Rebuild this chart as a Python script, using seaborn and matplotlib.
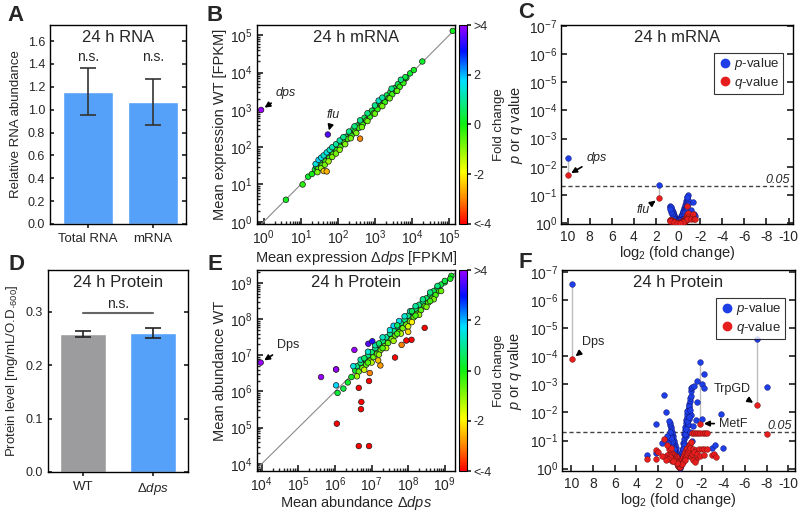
import numpy as np
import pandas as pd
import matplotlib
matplotlib.use("Agg")
import matplotlib.pyplot as plt
import matplotlib.ticker as mticker
from matplotlib.colors import LinearSegmentedColormap, Normalize
from matplotlib.lines import Line2D
import seaborn as sns

# ------------------------------------------------------------------ data
# Panel A: 24 h RNA
rna_categories = ["Total RNA", "mRNA"]
rna_values = [1.155, 1.065]
rna_errors = [0.205, 0.200]

# Panel D: 24 h protein
protein_categories = ["WT", "dps"]
protein_ticklabels = ["WT", "Δ$\\mathit{dps}$"]
protein_values = [0.258, 0.260]
protein_errors = [0.005, 0.009]

# Panel B: 24 h mRNA scatter (log10 FPKM, Δdps on x, WT on y) and fold change
b_log_dps = [1.38, 1.45, 1.50, 1.55, 1.60, 1.65, 1.70, 1.75, 1.80, 1.85, 1.90, 1.95, 2.00, 2.05,
             2.10, 2.15, 2.20, 2.25, 2.30, 2.35, 2.40, 2.45, 2.50, 2.55, 2.60, 2.65, 2.70, 2.75,
             2.80, 2.85, 2.90, 2.95, 3.00, 3.05, 3.10, 3.15, 3.20, 3.25, 3.30, 3.35, 3.40, 3.45,
             3.50, 3.55, 3.60, 3.65, 3.70, 3.78, 3.85, 3.95,
             1.42, 1.52, 1.62, 1.72, 1.82, 1.92, 2.02, 2.12, 2.22, 2.32, 2.42, 2.52, 2.62, 2.72,
             2.82, 2.92, 3.02, 3.12, 3.22, 3.32, 3.42, 3.52, 3.62, 3.72, 3.82,
             1.47, 1.57, 1.67, 1.77, 1.87, 1.97, 2.07, 2.17, 2.27, 2.37, 2.47, 2.57, 2.67, 2.77,
             2.87, 2.97, 3.07, 3.17, 3.27, 3.37, 3.47, 3.57, 3.67, 3.77,
             1.40, 1.48, 1.55, 1.62, 1.70, 1.78, 1.85, 1.95, 2.05, 2.15, 2.30, 2.45, 2.60, 2.80,
             3.00, 3.10, 3.20, 3.45, 3.70,
             1.45, 1.55, 1.65, 1.75, 1.85, 1.95, 2.05, 2.20, 2.35, 2.50, 2.65, 2.80, 3.00, 3.20,
             3.40, 3.60,
             0.60, 1.05, 1.20, 1.30, 4.05, 4.28, 5.10,
             2.60, 1.62, 1.70]
b_log_wt = [1.40, 1.44, 1.53, 1.56, 1.59, 1.68, 1.70, 1.77, 1.79, 1.88, 1.90, 1.94, 2.03, 2.05,
            2.12, 2.14, 2.22, 2.27, 2.29, 2.38, 2.40, 2.46, 2.52, 2.54, 2.62, 2.66, 2.69, 2.78,
            2.80, 2.86, 2.93, 2.94, 3.02, 3.08, 3.10, 3.16, 3.23, 3.25, 3.32, 3.36, 3.41, 3.47,
            3.51, 3.56, 3.62, 3.66, 3.71, 3.80, 3.86, 3.98,
            1.49, 1.58, 1.69, 1.78, 1.89, 1.98, 2.08, 2.19, 2.28, 2.38, 2.49, 2.58, 2.68, 2.79,
            2.88, 2.98, 3.09, 3.18, 3.28, 3.39, 3.48, 3.58, 3.69, 3.78, 3.88,
            1.42, 1.51, 1.62, 1.71, 1.82, 1.92, 2.01, 2.12, 2.22, 2.31, 2.42, 2.52, 2.61, 2.72,
            2.82, 2.91, 3.02, 3.12, 3.21, 3.32, 3.42, 3.51, 3.62, 3.72,
            1.55, 1.66, 1.72, 1.78, 1.86, 1.93, 2.00, 2.08, 2.18, 2.27, 2.42, 2.56, 2.72, 2.91,
            3.12, 3.25, 3.33, 3.57, 3.81,
            1.33, 1.44, 1.53, 1.62, 1.74, 1.83, 1.93, 2.08, 2.24, 2.38, 2.54, 2.70, 2.90, 3.10,
            3.31, 3.51,
            0.59, 1.00, 1.21, 1.28, 4.07, 4.30, 5.12,
            2.23, 1.36, 1.35]
b_fc = [0.2, 0.0, 0.3, 0.1, -0.1, 0.3, 0.0, 0.2, -0.1, 0.3, 0.0, -0.1, 0.2, 0.0,
        0.2, -0.1, 0.1, 0.2, -0.1, 0.3, 0.0, 0.1, 0.2, -0.1, 0.2, 0.1, -0.1, 0.3,
        0.0, 0.1, 0.2, -0.1, 0.1, 0.3, 0.0, 0.1, 0.2, 0.0, 0.1, 0.1, 0.0, 0.2,
        0.0, 0.1, 0.2, 0.0, 0.1, 0.1, 0.0, 0.2,
        0.6, 0.5, 0.7, 0.5, 0.6, 0.5, 0.4, 0.6, 0.5, 0.4, 0.5, 0.4, 0.4, 0.5,
        0.4, 0.4, 0.5, 0.4, 0.4, 0.5, 0.4, 0.4, 0.5, 0.4, 0.4,
        -0.5, -0.4, -0.5, -0.4, -0.5, -0.4, -0.4, -0.5, -0.4, -0.3, -0.4, -0.4, -0.3, -0.4,
        -0.3, -0.4, -0.3, -0.4, -0.3, -0.3, -0.4, -0.3, -0.3, -0.3,
        1.5, 1.8, 1.6, 1.4, 1.5, 1.3, 1.2, 1.0, 1.1, 0.9, 0.9, 0.8, 0.9, 0.8,
        0.9, 1.3, 1.1, 0.9, 0.8,
        -0.9, -1.0, -0.8, -1.1, -0.9, -0.8, -1.0, -0.9, -0.8, -0.9, -0.8, -0.8, -0.7, -0.8,
        -0.7, -0.7,
        0.1, -0.2, 0.2, 0.0, 0.1, 0.2, 0.1,
        -3.0, -2.3, -2.6]
b_label_names = ["dps", "flu"]
b_label_log_dps = [-0.07, 1.73]
b_label_log_wt = [3.00, 2.34]
b_label_fc = [6.0, 3.5]

# Panel E: 24 h protein scatter (log10 abundance) and fold change
e_log_dps = [6.55, 6.65, 6.75, 6.85, 6.95, 7.05, 7.15, 7.25, 7.35, 7.45, 7.55, 7.65, 7.75, 7.85,
             7.95, 8.05, 8.15, 8.25, 8.35, 8.45, 8.55, 8.65, 8.75, 8.85, 9.00, 9.18, 9.15,
             6.60, 6.70, 6.80, 6.90, 7.00, 7.10, 7.20, 7.30, 7.40, 7.50, 7.60, 7.70, 7.80,
             7.90, 8.00, 8.10, 8.20, 8.30, 8.40, 8.50, 8.60, 8.70, 8.80, 8.90, 9.00,
             6.65, 6.75, 6.85, 6.95, 7.05, 7.15, 7.25, 7.35, 7.45, 7.55, 7.65, 7.75, 7.85,
             7.95, 8.05, 8.15, 8.25, 8.35, 8.45, 8.55, 8.65, 8.75, 8.85,
             6.50, 6.70, 6.90, 7.10, 7.30, 7.50, 7.60, 7.75, 7.90, 8.05, 8.20, 8.40, 8.60, 8.80,
             6.80, 7.20, 7.70, 8.10,
             6.60, 6.80, 7.00, 7.20, 7.40, 7.60, 7.80, 8.00, 8.10, 8.30, 8.50, 8.70, 8.90,
             6.90, 7.30, 7.70, 8.20, 8.60,
             6.07, 6.23, 6.35, 6.45,
             6.03, 7.82, 6.95, 7.24, 7.18, 8.00,
             6.65, 6.72, 6.71, 6.05, 6.65, 6.93, 6.93, 7.64, 8.09, 7.95, 8.45,
             6.03, 5.62, 6.03, 6.53, 6.91, 7.02]
e_log_wt = [6.58, 6.66, 6.78, 6.85, 6.97, 7.08, 7.15, 7.27, 7.38, 7.45, 7.57, 7.68, 7.75, 7.87,
            7.98, 8.05, 8.17, 8.28, 8.35, 8.47, 8.58, 8.65, 8.77, 8.86, 9.02, 9.20, 9.12,
            6.70, 6.79, 6.90, 7.00, 7.09, 7.20, 7.30, 7.39, 7.50, 7.60, 7.69, 7.80, 7.90,
            7.99, 8.10, 8.20, 8.29, 8.40, 8.49, 8.58, 8.68, 8.78, 8.87, 8.96, 9.06,
            6.55, 6.65, 6.74, 6.85, 6.95, 7.04, 7.15, 7.25, 7.34, 7.45, 7.55, 7.64, 7.75,
            7.85, 7.94, 8.05, 8.15, 8.25, 8.36, 8.46, 8.57, 8.67, 8.78,
            6.70, 6.88, 7.10, 7.28, 7.50, 7.70, 7.82, 7.95, 8.08, 8.22, 8.36, 8.55, 8.74, 8.92,
            6.92, 7.33, 7.83, 8.22,
            6.42, 6.60, 6.80, 7.02, 7.20, 7.40, 7.60, 7.80, 7.92, 8.12, 8.34, 8.55, 8.78,
            6.80, 7.20, 7.60, 8.10, 8.50,
            5.96, 6.08, 6.25, 6.40,
            6.17, 7.29, 6.51, 6.72, 6.86, 7.65,
            6.10, 5.71, 5.51, 5.11, 4.49, 4.49, 6.29, 6.94, 7.43, 7.41, 7.76,
            6.61, 6.40, 6.61, 7.15, 7.32, 7.39]
e_fc = [0.2, 0.0, 0.2, 0.0, 0.1, 0.2, 0.0, 0.1, 0.2, 0.0, 0.1, 0.2, 0.0, 0.1,
        0.2, 0.0, 0.1, 0.2, 0.0, 0.1, 0.2, 0.0, 0.1, 0.1, 0.1, 0.1, 0.0,
        0.8, 0.7, 0.9, 0.8, 0.7, 0.9, 0.8, 0.7, 1.0, 0.9, 0.8, 1.0, 0.9,
        0.8, 0.9, 0.8, 0.7, 0.8, 0.7, 0.6, 0.6, 0.5, 0.5, 0.4, 0.4,
        -0.7, -0.8, -0.6, -0.8, -0.7, -0.6, -0.8, -0.7, -0.6, -0.8, -0.7, -0.6, -0.8,
        -0.7, -0.9, -0.7, -0.6, -0.6, -0.5, -0.5, -0.4, -0.4, -0.3,
        1.5, 1.2, 1.4, 1.1, 1.3, 1.5, 1.8, 1.6, 1.4, 1.2, 1.0, 0.9, 0.8, 0.8,
        0.6, 0.6, 0.6, 0.5,
        -1.2, -1.5, -1.3, -1.1, -1.4, -1.2, -1.3, -1.6, -2.0, -1.0, -0.9, -0.8, -0.7,
        -0.5, -0.5, -0.5, -0.4, -0.4,
        0.3, 0.4, 0.2, 0.1,
        1.8, -3.0, -3.0, -2.8, -2.5, -2.3,
        -4.2, -4.5, -4.5, -5.0, -6.0, -5.5, -4.2, -4.2, -4.0, -4.1, -4.3,
        5.0, 5.0, 5.0, 4.5, 3.5, 3.2]
e_label_names = ["Dps"]
e_label_log_dps = [3.97]
e_label_log_wt = [6.80]
e_label_fc = [6.0]

# Panel C: 24 h mRNA volcano (log2 fold change, p, q)
c_fc = [0.15, 0.20, 0.25, 0.30, 0.35, 0.40, 0.45, 0.50, 0.55, 0.60, 0.65, 0.70, 0.75,
        0.00, -0.05, -0.10, -0.15, -0.20, -0.25, -0.30, -0.35, -0.40, -0.45, -0.50, -0.55,
        -0.60, -0.65, -0.70, -0.75, -0.80, -0.85, -0.90,
        0.18, 0.28, 0.38, 0.48, 0.58, 0.68, 0.22, 0.32, 0.42, 0.52, 0.62, 0.72,
        -0.08, -0.18, -0.28, -0.38, -0.48, -0.58, -0.68, -0.78, -0.88, -0.12, -0.32, -0.52,
        -0.72, -0.92, -0.62, -0.82,
        0.30, 0.20, 0.10, 0.00, -0.10, -0.20, -0.30, 0.40, -0.40, 0.10, -0.15,
        -1.36, -1.20, -1.45, -0.76, -1.50]
c_p = [0.95, 0.85, 0.76, 0.68, 0.60, 0.53, 0.47, 0.42, 0.37, 0.33, 0.30, 0.27, 0.24,
       1.00, 0.92, 0.84, 0.76, 0.69, 0.62, 0.55, 0.49, 0.44, 0.39, 0.34, 0.30,
       0.26, 0.23, 0.20, 0.17, 0.15, 0.12, 0.105,
       0.90, 0.70, 0.55, 0.44, 0.35, 0.28, 0.95, 0.80, 0.62, 0.50, 0.40, 0.33,
       0.95, 0.80, 0.65, 0.52, 0.42, 0.33, 0.26, 0.20, 0.15, 0.93, 0.70, 0.50,
       0.33, 0.22, 0.40, 0.30,
       0.80, 0.90, 0.95, 0.90, 0.90, 0.85, 0.80, 0.70, 0.75, 0.85, 0.80,
       0.18, 0.36, 0.48, 0.12, 0.55]
c_q = [1.00, 0.98, 0.96, 0.94, 0.92, 0.90, 0.88, 0.86, 0.84, 0.82, 0.80, 0.78, 0.76,
       1.00, 1.00, 0.98, 0.96, 0.94, 0.92, 0.90, 0.88, 0.85, 0.82, 0.80, 0.77,
       0.74, 0.70, 0.66, 0.62, 0.55, 0.50, 0.45,
       1.00, 0.96, 0.92, 0.88, 0.84, 0.80, 1.00, 0.98, 0.95, 0.90, 0.86, 0.82,
       1.00, 0.98, 0.95, 0.92, 0.88, 0.85, 0.80, 0.72, 0.62, 1.00, 0.96, 0.90,
       0.80, 0.70, 0.85, 0.75,
       1.0, 1.0, 1.0, 1.0, 1.0, 1.0, 1.0, 0.95, 0.95, 1.0, 1.0,
       0.48, 0.72, 0.72, 0.24, 0.72]
c_label_names = ["dps", "flu"]
c_label_fc = [10.0, 1.75]
c_label_p = [4.9e-3, 0.044]
c_label_q = [0.020, 0.13]

# Panel F: 24 h protein volcano (blue p-values, red q-values)
f_p_fc = [0.05, 0.10, 0.15, 0.20, 0.25, 0.30, 0.35, 0.40, 0.45, 0.50, 0.55, 0.60, 0.65, 0.70,
          0.75, 0.80, 0.85, 0.90, 0.95, 1.00,
          0.12, 0.22, 0.32, 0.42, 0.52, 0.62, 0.72, 0.82, 0.92, 0.18, 0.38, 0.58, 0.78, 0.98,
          -0.05, -0.10, -0.15, -0.20, -0.25, -0.30, -0.35, -0.40, -0.45, -0.50, -0.55, -0.60,
          -0.65, -0.70, -0.75, -0.80, -0.85, -0.90, -0.95, -1.00, -1.05, -1.00,
          -0.12, -0.22, -0.32, -0.42, -0.52, -0.62, -0.72, -0.82, -0.92, -0.18, -0.38, -0.58,
          -0.78, -0.98, -0.88, -0.68,
          0.00, 0.02, -0.02, 0.10, -0.10, 0.20, -0.20, 0.30, 0.50, 0.70, 0.90, 0.80,
          -0.30, -0.50, -0.70, -0.90, -0.60, -0.80,
          1.46, 1.30, 2.20, 3.00, 2.20, 1.10, 1.20, 0.60, 1.60,
          -1.13, -1.28, -1.59, -2.04, -2.20, -2.26, -1.60, -1.50, -2.00, -3.80, -2.96, -3.26,
          -4.00, -1.20, -0.90, -1.10,
          -8.00]
f_p = [0.85, 0.70, 0.55, 0.45, 0.36, 0.29, 0.23, 0.18, 0.15, 0.12, 0.10, 0.085, 0.07, 0.06,
       0.05, 0.04, 0.033, 0.028, 0.024, 0.020,
       0.75, 0.55, 0.40, 0.30, 0.22, 0.16, 0.12, 0.09, 0.065, 0.80, 0.45, 0.25, 0.14, 0.09,
       0.80, 0.55, 0.38, 0.26, 0.18, 0.12, 0.085, 0.06, 0.043, 0.032, 0.024, 0.018,
       0.014, 0.011, 0.0085, 0.0065, 0.005, 0.004, 0.0032, 0.0026, 0.0018, 0.0014,
       0.60, 0.35, 0.20, 0.12, 0.07, 0.045, 0.028, 0.017, 0.011, 0.50, 0.15, 0.06,
       0.025, 0.012, 0.006, 0.009,
       0.95, 0.90, 0.90, 0.80, 0.75, 0.65, 0.60, 0.40, 0.20, 0.10, 0.05, 0.08,
       0.20, 0.06, 0.02, 0.008, 0.04, 0.015,
       0.0024, 0.010, 0.026, 0.32, 0.27, 0.12, 0.07, 0.30, 0.12,
       0.0013, 0.0012, 0.00074, 0.0010, 0.00045, 0.0014, 0.0044, 0.019, 0.017, 0.011, 0.18,
       0.15, 0.19, 0.03, 0.05, 0.10,
       0.0013]
f_q_fc = [0.00, 0.10, 0.20, 0.30, 0.40, 0.50, 0.60, 0.70, 0.80, 0.90, 1.00, 1.20, 1.40, 1.60,
          1.00, 0.80, 1.20, 3.00, 2.20, 2.20, 1.46, 2.00,
          0.05, 0.15, 0.25, 0.35, 0.45, 0.55, 0.65, 0.75, 0.85, 0.95, 1.10, 1.30,
          -0.10, -0.20, -0.30, -0.40, -0.50, -0.60, -0.70, -0.80, -0.90, -1.00,
          -0.05, -0.15, -0.25, -0.35, -0.45, -0.55, -0.65, -0.75, -0.85, -0.95,
          -1.10, -1.30, -1.50, -1.70, -1.90, -2.10, -2.30, -2.50,
          -1.20, -1.50, -1.80, -2.00, -2.20, -2.50, -2.96, -3.10, -3.30, -1.50, -1.00, -0.50,
          -0.20, 0.30, 0.60, -1.10, -1.30, -1.60, -1.90, -2.20, -1.20, -1.40,
          -8.00]
f_q = [0.75, 0.60, 0.50, 0.42, 0.36, 0.32, 0.30, 0.28, 0.30, 0.35, 0.30, 0.33, 0.40, 0.35,
       0.20, 0.18, 0.15, 0.47, 0.22, 0.47, 0.09, 0.25,
       0.90, 0.80, 0.70, 0.60, 0.50, 0.45, 0.50, 0.55, 0.45, 0.40, 0.45, 0.50,
       0.55, 0.45, 0.38, 0.30, 0.25, 0.20, 0.18, 0.15, 0.13, 0.11,
       0.85, 0.70, 0.60, 0.50, 0.42, 0.35, 0.30, 0.26, 0.22, 0.19,
       0.056, 0.056, 0.056, 0.056, 0.056, 0.056, 0.056, 0.056,
       0.20, 0.22, 0.20, 0.20, 0.20, 0.20, 0.32, 0.30, 0.37, 0.45, 0.40, 0.50,
       0.70, 0.65, 0.55, 0.30, 0.25, 0.30, 0.35, 0.33, 0.50, 0.60,
       0.059]
f_label_names = ["Dps", "MetF", "TrpGD"]
f_label_fc = [9.9, -1.83, -7.07]
f_label_p = [2.8e-7, 1.6e-4, 2.4e-5]
f_label_q = [1.25e-4, 0.025, 5.5e-3]

# ------------------------------------------------------------------ style
sns.set_theme(style="ticks")
plt.rcParams["font.family"] = ["Liberation Sans", "DejaVu Sans"]
plt.rcParams["mathtext.fontset"] = "custom"
plt.rcParams["mathtext.rm"] = "Liberation Sans"
plt.rcParams["mathtext.it"] = "Liberation Sans:italic"
plt.rcParams["mathtext.bf"] = "Liberation Sans:bold"
plt.rcParams["axes.unicode_minus"] = False
plt.rcParams["axes.linewidth"] = 1.0
plt.rcParams["axes.edgecolor"] = "black"

TICK_FS = 9
LABEL_FS = 9.5
TITLE_FS = 12
BAR_BLUE = "#55A0F8"
BAR_GRAY = "#9C9B9D"
P_BLUE = "#1E3FE6"
Q_RED = "#E61E1E"

fc_cmap = LinearSegmentedColormap.from_list(
    "fold", [(0.0, "#FF0000"), (0.13, "#FF8A00"), (0.26, "#FFFF00"), (0.5, "#10F010"),
             (0.72, "#00E0FF"), (0.87, "#0010FF"), (1.0, "#9A00FF")])
fc_norm = Normalize(-4, 4)

W, H = 800, 511


def rect(l, r, t, b):
    return [l / W, 1 - b / H, (r - l) / W, (b - t) / H]


fig = plt.figure(figsize=(8.0, 5.11), dpi=100)
axA = fig.add_axes(rect(50, 186, 25, 224))
axB = fig.add_axes(rect(257, 455, 25, 224))
cbB = fig.add_axes(rect(459, 467, 25, 224))
axC = fig.add_axes(rect(561, 793, 25, 224))
axD = fig.add_axes(rect(48, 188, 270, 472))
axE = fig.add_axes(rect(257, 455, 270, 471))
cbE = fig.add_axes(rect(459, 467, 270, 471))
axF = fig.add_axes(rect(562, 795, 270, 471))


def title_in(ax, s):
    ax.text(0.5, 0.975, s, transform=ax.transAxes, ha="center", va="top", fontsize=TITLE_FS)


# ------------------------------------------------------------------ A
dfA = pd.DataFrame({"cat": rna_categories, "val": rna_values})
sns.barplot(data=dfA, x="cat", y="val", color=BAR_BLUE, saturation=1, width=0.78,
            errorbar=None, ax=axA)
axA.errorbar(range(len(rna_values)), rna_values, yerr=rna_errors, fmt="none",
             ecolor="#333333", elinewidth=1.2, capsize=6, capthick=1.2)
for i, v in enumerate(rna_values):
    axA.text(i, 1.46, "n.s.", ha="center", va="center", fontsize=10)
axA.set_xlim(-0.59, 1.51)
axA.set_ylim(0, 1.74)
axA.set_yticks(np.arange(0, 1.61, 0.2))
axA.yaxis.set_major_formatter(mticker.FormatStrFormatter("%.1f"))
axA.set_xlabel("")
axA.set_ylabel("Relative RNA abundance", fontsize=LABEL_FS)
title_in(axA, "24 h RNA")

# ------------------------------------------------------------------ D
dfD = pd.DataFrame({"cat": protein_categories, "val": protein_values})
sns.barplot(data=dfD, x="cat", y="val", hue="cat", palette=[BAR_GRAY, BAR_BLUE],
            saturation=1, width=0.66, errorbar=None, legend=False, ax=axD)
axD.errorbar(range(len(protein_values)), protein_values, yerr=protein_errors, fmt="none",
             ecolor="#222222", elinewidth=1.2, capsize=6, capthick=1.2)
axD.plot([0, 1], [0.297, 0.297], color="#666666", lw=1.5)
axD.text(0.5, 0.301, "n.s.", ha="center", va="bottom", fontsize=10)
axD.set_xlim(-0.5, 1.5)
axD.set_ylim(0, 0.378)
axD.set_yticks([0.0, 0.1, 0.2, 0.3])
axD.yaxis.set_major_formatter(mticker.FormatStrFormatter("%.1f"))
axD.set_xticks([0, 1])
axD.set_xticklabels(protein_ticklabels)
axD.set_xlabel("")
axD.set_ylabel("Protein level [mg/mL/O.D.$_{600}$]", fontsize=LABEL_FS)
title_in(axD, "24 h Protein")

for ax in (axA, axD):
    ax.tick_params(axis="y", which="both", direction="in", left=True, right=True,
                   labelsize=TICK_FS, length=3)
    ax.tick_params(axis="x", direction="out", labelsize=TICK_FS + 0.5, length=3)
    for s in ax.spines.values():
        s.set_visible(True)
        s.set_linewidth(1.0)


# ------------------------------------------------------------------ B / E scatter
def scatter_panel(ax, cax, xs, ys, fc, xlim, ylim, xlabel, ylabel, title, xpad):
    df = pd.DataFrame({"x": np.power(10.0, xs), "y": np.power(10.0, ys), "fc": fc})
    ax.set_xscale("log")
    ax.set_yscale("log")
    ax.axline((1.0, 1.0), (10.0, 10.0), color="#8a8a8a", lw=0.8, zorder=1)
    sns.scatterplot(data=df, x="x", y="y", hue="fc", palette=fc_cmap, hue_norm=fc_norm,
                    s=16, edgecolor="#1a1a1a", linewidth=0.5, legend=False, ax=ax, zorder=3)
    ax.set_xlim(*xlim)
    ax.set_ylim(*ylim)
    ax.xaxis.set_major_locator(mticker.LogLocator(base=10, numticks=12))
    ax.yaxis.set_major_locator(mticker.LogLocator(base=10, numticks=12))
    ax.xaxis.set_minor_locator(mticker.LogLocator(base=10, subs=np.arange(2, 10), numticks=12))
    ax.yaxis.set_minor_locator(mticker.LogLocator(base=10, subs=np.arange(2, 10), numticks=12))
    ax.yaxis.set_minor_formatter(mticker.NullFormatter())
    ax.xaxis.set_minor_formatter(mticker.NullFormatter())
    ax.tick_params(which="major", direction="in", length=4, labelsize=TICK_FS + 1)
    ax.tick_params(which="minor", direction="in", length=2)
    ax.set_xlabel(xlabel, fontsize=LABEL_FS + 1, labelpad=xpad)
    ax.set_ylabel(ylabel, fontsize=LABEL_FS + 1, labelpad=2)
    title_in(ax, title)
    sm = matplotlib.cm.ScalarMappable(norm=fc_norm, cmap=fc_cmap)
    cb = fig.colorbar(sm, cax=cax)
    cb.set_ticks([-4, -2, 0, 2, 4])
    cb.set_ticklabels(["<-4", "-2", "0", "2", ">4"])
    cb.ax.tick_params(labelsize=TICK_FS, length=3, direction="out", pad=1.5)
    cb.outline.set_linewidth(0.8)
    cb.set_label("Fold change", fontsize=LABEL_FS, labelpad=1)


scatter_panel(axB, cbB, b_log_dps + b_label_log_dps, b_log_wt + b_label_log_wt,
              b_fc + b_label_fc, (0.66, 1.45e5), (0.87, 1.9e5),
              "Mean expression Δ$\\mathit{dps}$ [FPKM]", "Mean expression WT [FPKM]",
              "24 h mRNA", 1)
arrow = dict(arrowstyle="-|>", color="black", lw=1.2, mutation_scale=8, shrinkA=1, shrinkB=3)
axB.annotate(b_label_names[0], xy=(10 ** b_label_log_dps[0], 10 ** b_label_log_wt[0]),
             xytext=(2.1, 2300), fontsize=9, style="italic", arrowprops=arrow)
axB.annotate(b_label_names[1], xy=(10 ** b_label_log_dps[1], 10 ** b_label_log_wt[1]),
             xytext=(75, 600), fontsize=9, style="italic", ha="center", arrowprops=arrow)

scatter_panel(axE, cbE, e_log_dps + e_label_log_dps, e_log_wt + e_label_log_wt,
              e_fc + e_label_fc, (7.4e3, 1.9e9), (6.3e3, 2.3e9),
              "Mean abundance Δ$\\mathit{dps}$", "Mean abundance WT", "24 h Protein", 0)
axE.annotate(e_label_names[0], xy=(10 ** e_label_log_dps[0], 10 ** e_label_log_wt[0]),
             xytext=(2.6e4, 1.6e7), fontsize=9, arrowprops=arrow)


# ------------------------------------------------------------------ C / F volcano
def volcano_panel(ax, p_fc, p, q_fc, q, lab_fc, lab_p, lab_q, xlim, ylim, title, ylab_x):
    ax.set_yscale("log")
    ax.vlines(lab_fc, lab_p, lab_q, color="#bdbdbd", lw=1.0, zorder=1)
    ax.axhline(0.05, color="#444444", lw=1.0, ls=(0, (3, 2)), zorder=1)
    sns.scatterplot(x=list(p_fc) + list(lab_fc), y=list(p) + list(lab_p), color=P_BLUE,
                    s=17, edgecolor="#10106a", linewidth=0.3, ax=ax, zorder=3)
    sns.scatterplot(x=list(q_fc) + list(lab_fc), y=list(q) + list(lab_q), color=Q_RED,
                    s=17, edgecolor="#6a1010", linewidth=0.3, ax=ax, zorder=4)
    ax.set_xlim(*xlim)
    ax.set_ylim(*ylim)
    ax.set_xticks(np.arange(10, -11, -2))
    ax.yaxis.set_major_locator(mticker.LogLocator(base=10, numticks=12))
    ax.yaxis.set_minor_locator(mticker.NullLocator())
    ax.tick_params(axis="both", direction="in", length=4, labelsize=TICK_FS + 1,
                   right=True, pad=2.5)
    ax.tick_params(axis="x", pad=4.5)
    ax.set_xlabel("log$_2$ (fold change)", fontsize=LABEL_FS + 1, labelpad=0)
    ax.set_ylabel("$\\mathit{p}$ or $\\mathit{q}$ value", fontsize=LABEL_FS + 1)
    ax.yaxis.set_label_coords(ylab_x, 0.5)
    ax.text(0.985, 0.05, "0.05", transform=ax.get_yaxis_transform(), ha="right",
            va="bottom", fontsize=9, style="italic")
    title_in(ax, title)
    handles = [Line2D([], [], marker="o", ls="", color=P_BLUE, markersize=6),
               Line2D([], [], marker="o", ls="", color=Q_RED, markersize=6)]
    leg = ax.legend(handles, ["$\\mathit{p}$-value", "$\\mathit{q}$-value"],
                    loc="upper right", bbox_to_anchor=(0.955, 0.86), frameon=True,
                    fancybox=False, edgecolor="black", fontsize=9.5, handletextpad=0.1,
                    borderpad=0.25, labelspacing=0.2, handlelength=1.2, borderaxespad=0)
    leg.get_frame().set_linewidth(0.8)


volcano_panel(axC, c_fc, c_p, c_fc, c_q, c_label_fc, c_label_p, c_label_q,
              (10.6, -10.4), (1.09, 9.1e-8), "24 h mRNA", -0.155)
axC.annotate(c_label_names[0], xy=(c_label_fc[0], c_label_q[0]), xytext=(8.3, 5.0e-3),
             fontsize=9, style="italic", va="center", arrowprops=arrow)
axC.annotate(c_label_names[1], xy=(c_label_fc[1], c_label_q[1]), xytext=(3.2, 0.36),
             fontsize=9, style="italic", ha="center", va="center", arrowprops=arrow)

volcano_panel(axF, f_p_fc, f_p, f_q_fc, f_q, f_label_fc, f_label_p, f_label_q,
              (10.85, -10.6), (1.21, 8.7e-8), "24 h Protein", -0.165)
axF.annotate(f_label_names[0], xy=(f_label_fc[0], f_label_q[0]), xytext=(8.0, 3.2e-5),
             fontsize=9, ha="center", va="center", arrowprops=arrow)
axF.annotate(f_label_names[1], xy=(f_label_fc[1], f_label_q[1]), xytext=(-3.6, 0.025),
             fontsize=9, ha="left", va="center", arrowprops=arrow)
axF.annotate(f_label_names[2], xy=(f_label_fc[2], f_label_q[2]), xytext=(-4.8, 1.5e-3),
             fontsize=9, ha="center", va="center", arrowprops=arrow)

# ------------------------------------------------------------------ panel letters
for letter, (x, y) in {"A": (16, 15), "B": (215, 15), "C": (526, 13),
                       "D": (16, 264), "E": (215, 264), "F": (525, 262)}.items():
    fig.text(x / W, 1 - y / H, letter, fontsize=16, fontweight="bold", ha="center",
             va="center")

fig.savefig("out.png", dpi=100)
